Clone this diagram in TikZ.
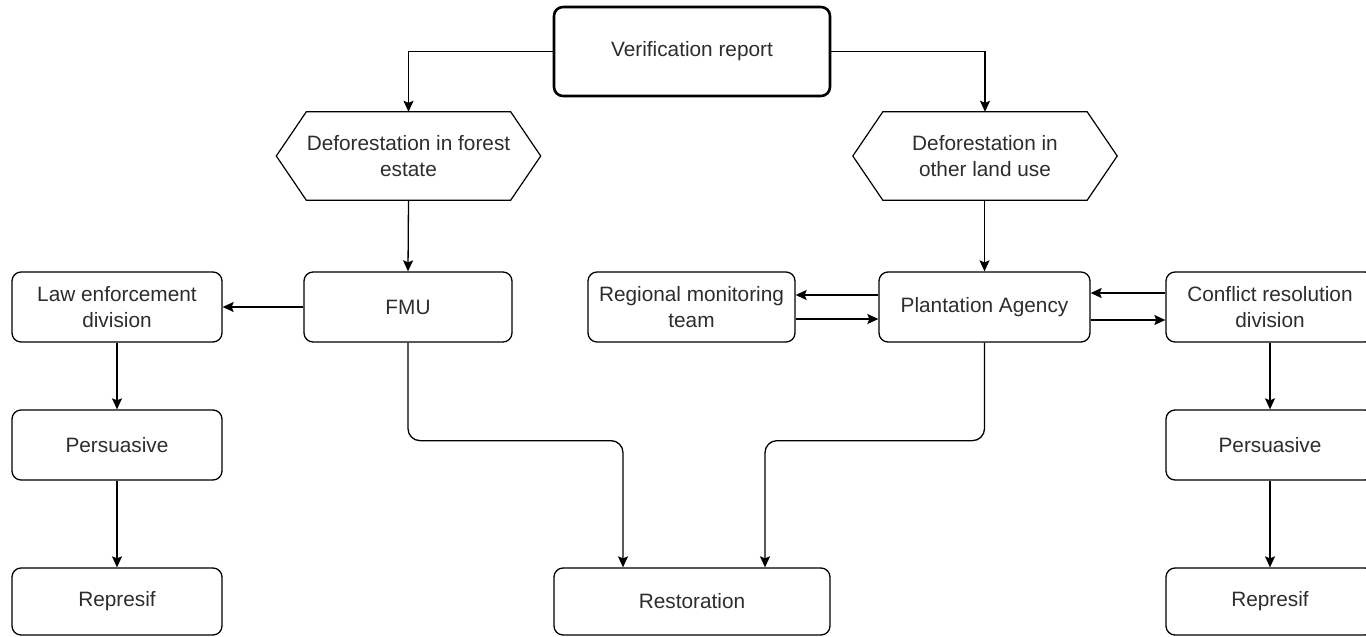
\documentclass[tikz,border=0pt]{standalone}
\usepackage{fontspec}
\setmainfont{Liberation Sans}
\usetikzlibrary{arrows.meta}
\definecolor{txt}{RGB}{45,45,45}
\begin{document}
\begin{tikzpicture}[x=1pt,y=-1pt,
  box/.style={draw, rounded corners=9pt, line width=1.3pt, align=center, text=txt,
    font=\fontsize{20.8}{26}\selectfont, inner sep=0pt, minimum height=70pt},
  hexnode/.style={align=center, text=txt, font=\fontsize{20.8}{26}\selectfont,
    inner sep=0pt, minimum width=264pt, minimum height=88pt},
  hexline/.style={line width=1.2pt},
  arr/.style={-{Stealth[length=11pt,width=10pt,inset=2pt]}, line width=1.3pt}]
\useasboundingbox (0,0) rectangle (1366,637);
\clip (0,0) rectangle (1366,637);

\node[box, line width=2.6pt, minimum width=276pt, minimum height=89pt] (vr) at (692,51.5) {Verification report};

\node[hexnode] (hexL) at (408.5,156) {Deforestation in forest\\estate};
\node[hexnode] (hexR) at (985,156) {Deforestation in\\other land use};
\foreach \h in {hexL,hexR}{
  \draw[hexline] (\h.west) -- ([xshift=30pt]\h.north west) -- ([xshift=-30pt]\h.north east)
    -- (\h.east) -- ([xshift=-30pt]\h.south east) -- ([xshift=30pt]\h.south west) -- cycle;
}

\node[box, minimum width=210pt] (law) at (117,307) {Law enforcement\\division};
\node[box, minimum width=208pt] (fmu) at (408,307) {FMU};
\node[box, minimum width=207pt] (rmt) at (691.5,307) {Regional monitoring\\team};
\node[box, minimum width=211pt] (pa) at (984.5,307) {Plantation Agency};
\node[box, minimum width=208pt] (crd) at (1270,307) {Conflict resolution\\division};

\node[box, minimum width=210pt] (perL) at (117,445) {Persuasive};
\node[box, minimum width=208pt] (perR) at (1270,445) {Persuasive};
\node[box, minimum width=210pt, minimum height=67pt] (repL) at (117,601.5) {Represif};
\node[box, minimum width=208pt, minimum height=67pt] (repR) at (1270,601.5) {Represif};
\node[box, minimum width=276pt, minimum height=67pt] (rest) at (692,601.5) {Restoration};

\draw[arr] (vr.west) -| (hexL.north);
\draw[arr] (vr.east) -| (hexR.north);
\draw[arr] (hexL.south) -- (fmu.north);
\draw[arr] (hexR.south -| pa.north) -- (pa.north);
\draw[arr] (fmu.west) -- (law.east);
\draw[arr] (law.south) -- (perL.north);
\draw[arr] (perL.south) -- (repL.north);
\draw[arr] (crd.south) -- (perR.north);
\draw[arr] (perR.south) -- (repR.north);
\draw[arr] ([yshift=12pt]pa.west) -- ([yshift=12pt]rmt.east);
\draw[arr] ([yshift=-12pt]rmt.east) -- ([yshift=-12pt]pa.west);
\draw[arr] ([yshift=14pt]crd.west) -- ([yshift=14pt]pa.east);
\draw[arr] ([yshift=-13pt]pa.east) -- ([yshift=-13pt]crd.west);
\draw[arr, rounded corners=12pt] (fmu.south) -- ++(0,98) -| ([xshift=-69pt]rest.north);
\draw[arr, rounded corners=12pt] (pa.south) -- ++(0,98) -| ([xshift=73pt]rest.north);
\end{tikzpicture}
\end{document}
